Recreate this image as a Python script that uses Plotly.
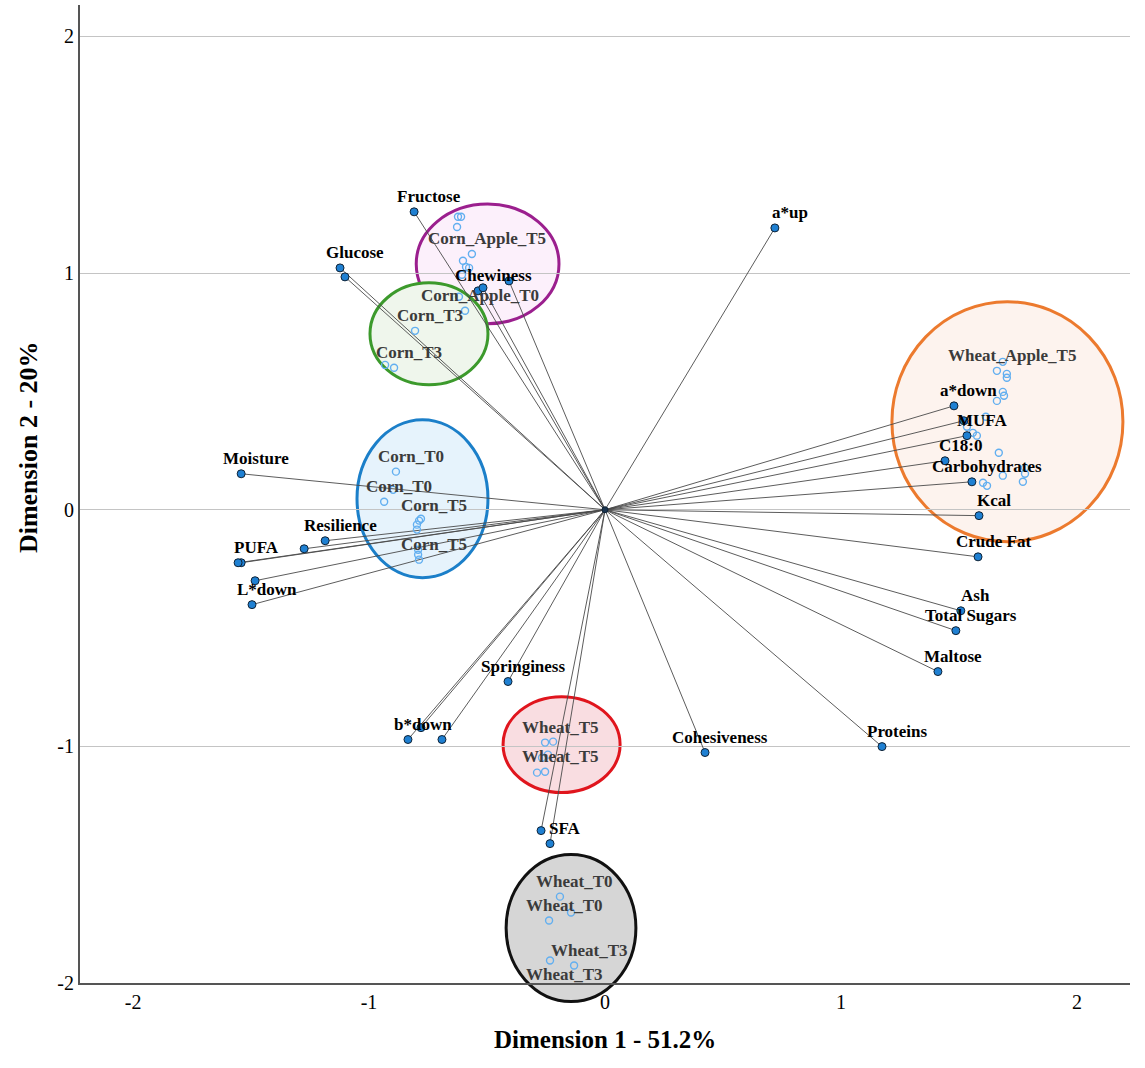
import plotly.graph_objects as go

# ---------------- data ----------------
# Variables (component loadings)
var_names = ["Fructose", "Glucose", "", "a*up", "Chewiness", "", "",
             "Moisture", "Resilience", "", "PUFA", "", "", "L*down",
             "b*down", "", "", "Springiness", "", "SFA", "Cohesiveness",
             "Proteins", "Maltose", "Total Sugars", "Ash", "Crude Fat", "Kcal",
             "Carbohydrates", "C18:0", "MUFA", "", "a*down"]
var_x = [-0.809, -1.123, -1.102, 0.720, -0.538, -0.517, -0.407,
         -1.542, -1.186, -1.275, -1.542, -1.555, -1.483, -1.496,
         -0.835, -0.780, -0.691, -0.411, -0.271, -0.233, 0.424,
         1.174, 1.411, 1.487, 1.508, 1.581, 1.585,
         1.555, 1.441, 1.534, 1.521, 1.479]
var_y = [1.259, 1.022, 0.984, 1.191, 0.925, 0.938, 0.967,
         0.152, -0.131, -0.165, -0.224, -0.224, -0.300, -0.401,
         -0.971, -0.921, -0.971, -0.726, -1.356, -1.411, -1.026,
         -1.001, -0.684, -0.511, -0.427, -0.199, -0.025,
         0.118, 0.207, 0.313, 0.376, 0.439]

# Observations (object scores)
obs_labels = ["", "", "", "Corn_Apple_T5", "", "", "", "", "", "Corn_Apple_T0",
              "Corn_T3", "", "Corn_T3",
              "Corn_T0", "", "Corn_T0",
              "Corn_T5", "", "", "", "", "", "Corn_T5",
              "", "Wheat_Apple_T5", "", "", "", "", "", "", "", "", "", "", "", "", "", "", "", "",
              "Wheat_T5", "", "", "", "", "Wheat_T5",
              "Wheat_T0", "", "Wheat_T0",
              "", "Wheat_T3", "Wheat_T3"]
obs_x = [-0.623, -0.610, -0.627, -0.564, -0.602, -0.589, -0.576, -0.606, -0.619, -0.593,
         -0.805, -0.932, -0.894,
         -0.886, -0.898, -0.936,
         -0.788, -0.780, -0.797, -0.797, -0.792, -0.792, -0.788,
         1.686, 1.661, 1.703, 1.703, 1.686, 1.691, 1.661, 1.614, 1.534, 1.559, 1.576,
         1.669, 1.686, 1.780, 1.780, 1.771, 1.602, 1.619,
         -0.254, -0.220, -0.267, -0.242, -0.288, -0.254,
         -0.191, -0.144, -0.237,
         -0.233, -0.131, -0.237]
obs_y = [1.238, 1.238, 1.195, 1.081, 1.052, 1.026, 1.022, 0.993, 0.900, 0.841,
         0.756, 0.612, 0.600,
         0.161, 0.084, 0.034,
         -0.046, -0.038, -0.063, -0.084, -0.169, -0.190, -0.211,
         0.625, 0.587, 0.574, 0.558, 0.498, 0.482, 0.460, 0.393, 0.351, 0.325, 0.313,
         0.241, 0.144, 0.177, 0.152, 0.118, 0.114, 0.101,
         -0.984, -0.980, -1.048, -1.035, -1.111, -1.107,
         -1.635, -1.702, -1.736,
         -1.905, -1.926, -2.027]

# Group ellipses: x0, x1, y0, y1
groups = ["Corn_Apple", "Corn_T3", "Corn_T0_T5", "Wheat_Apple", "Wheat_T5", "Wheat_T0_T3"]
ell_x0 = [-0.800, -0.996, -1.051, 1.216, -0.432, -0.419]
ell_x1 = [-0.195, -0.496, -0.496, 2.195, 0.064, 0.131]
ell_y0 = [0.786, 0.528, -0.287, -0.135, -1.195, -2.078]
ell_y1 = [1.292, 0.959, 0.380, 0.879, -0.790, -1.457]
ell_line = ["#9b1f8e", "#3c9a2c", "#1b7fc9", "#ec7a2e", "#e0151d", "#111111"]
ell_fill = ["#fcf0fb", "#eff6ec", "#e6f3fc", "#fdf3ee", "#f9dde1", "#d6d6d6"]

x_ticks = [-2, -1, 0, 1, 2]
x_tick_text = ["-2", "-1", "0", "1", "2"]
y_ticks = [-2, -1, 0, 1, 2]
y_tick_text = ["-2", "-1", "0", "1", "2"]

X_RANGE = [-2.225, 2.225]
Y_RANGE = [-2.0, 2.133]

FONT = "Liberation Serif, Times New Roman, serif"


def y_dom(v):
    return (v - Y_RANGE[0]) / (Y_RANGE[1] - Y_RANGE[0])


fig = go.Figure()

# ellipses
for i in range(len(groups)):
    y0, y1 = ell_y0[i], ell_y1[i]
    yref = "y"
    if y0 < Y_RANGE[0]:
        yref = "y domain"
        y0, y1 = y_dom(y0), y_dom(y1)
    fig.add_shape(type="circle", xref="x", yref=yref,
                  x0=ell_x0[i], x1=ell_x1[i], y0=y0, y1=y1,
                  line=dict(color=ell_line[i], width=3),
                  fillcolor=ell_fill[i], layer="below")

# loading lines
lx, ly = [], []
for vx, vy in zip(var_x, var_y):
    lx += [0, vx, None]
    ly += [0, vy, None]
fig.add_trace(go.Scatter(x=lx, y=ly, mode="lines",
                         line=dict(color="#4a4a4a", width=0.9),
                         hoverinfo="skip", showlegend=False))

# observations
fig.add_trace(go.Scatter(x=obs_x, y=obs_y, mode="markers",
                         marker=dict(symbol="circle-open", size=7,
                                     color="#62aff0", line=dict(width=1.4)),
                         text=obs_labels, showlegend=False))

# variables
fig.add_trace(go.Scatter(x=var_x, y=var_y, mode="markers",
                         marker=dict(symbol="circle", size=8, color="#1f80d2",
                                     line=dict(color="#0e2236", width=1)),
                         text=var_names, showlegend=False))

# origin
fig.add_trace(go.Scatter(x=[0], y=[0], mode="markers",
                         marker=dict(size=6, color="#1b3550",
                                     line=dict(color="#0e2236", width=1)),
                         showlegend=False, hoverinfo="skip"))


def label(t, x, y, size, color):
    yref = "y"
    if y < Y_RANGE[0]:
        yref = "y domain"
        y = y_dom(y)
    return dict(x=x, y=y, xref="x", yref=yref, text="<b>%s</b>" % t,
                showarrow=False, xshift=15, yshift=15,
                xanchor="center", yanchor="middle",
                font=dict(family=FONT, size=size, color=color))


annotations = []
for t, x, y in zip(obs_labels, obs_x, obs_y):
    if t:
        annotations.append(label(t, x, y, 17, "#3b3b3b"))
for t, x, y in zip(var_names, var_x, var_y):
    if t:
        annotations.append(label(t, x, y, 17, "#000000"))

annotations.append(dict(x=0.5, y=-0.058, xref="paper", yref="paper",
                        text="<b>Dimension 1 - 51.2%</b>", showarrow=False,
                        xanchor="center", yanchor="middle",
                        font=dict(family=FONT, size=25, color="#000000")))
annotations.append(dict(x=-0.0495, y=0.548, xref="paper", yref="paper",
                        text="<b>Dimension 2 - 20%</b>", showarrow=False,
                        textangle=-90, xanchor="center", yanchor="middle",
                        font=dict(family=FONT, size=26, color="#000000")))

fig.update_layout(
    width=1145, height=1068,
    margin=dict(l=80, r=15, t=5, b=85),
    paper_bgcolor="white", plot_bgcolor="rgba(0,0,0,0)",
    showlegend=False,
    annotations=annotations,
    font=dict(family=FONT, color="#000000"),
)
fig.update_xaxes(range=X_RANGE, showgrid=False, zeroline=False,
                 showline=True, linecolor="#555555", linewidth=2,
                 tickvals=x_ticks, ticktext=x_tick_text, ticks="",
                 tickfont=dict(family=FONT, size=20, color="#000000"))
fig.update_yaxes(range=Y_RANGE, showgrid=True, gridcolor="#c4c4c4", gridwidth=1,
                 zeroline=False, showline=True, linecolor="#555555", linewidth=2,
                 tickvals=y_ticks, ticktext=y_tick_text, ticks="",
                 tickfont=dict(family=FONT, size=20, color="#000000"))

fig.write_html("out.html", config={"displayModeBar": False},
               post_script="document.body.style.margin='0px';")
